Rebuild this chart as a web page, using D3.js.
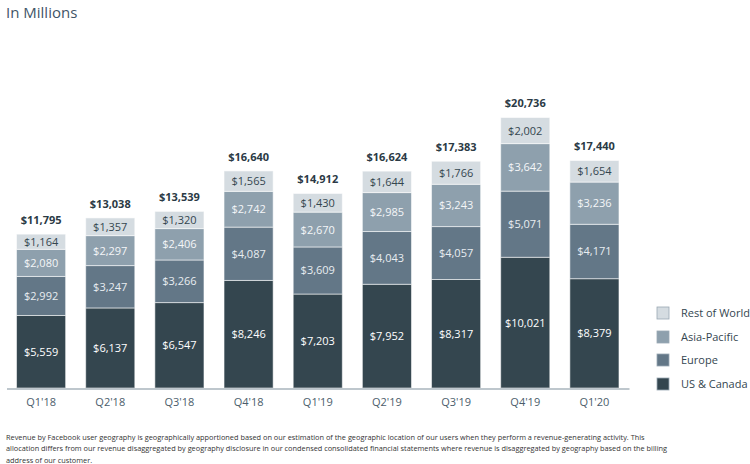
<!DOCTYPE html>
<html><head><meta charset="utf-8">
<script src="https://cdn.jsdelivr.net/npm/d3@7"></script>
<style>
body{margin:0;background:#fff;}
svg{display:block;font-family:"Open Sans","Noto Sans",sans-serif;}
</style></head>
<body><svg id="c" width="750" height="464"></svg>
<script>
const quarters = ["Q1'18","Q2'18","Q3'18","Q4'18","Q1'19","Q2'19","Q3'19","Q4'19","Q1'20"];
const usCanada = [5559,6137,6547,8246,7203,7952,8317,10021,8379];
const europe = [2992,3247,3266,4087,3609,4043,4057,5071,4171];
const asiaPacific = [2080,2297,2406,2742,2670,2985,3243,3642,3236];
const restOfWorld = [1164,1357,1320,1565,1430,1644,1766,2002,1654];
const totals = [11795,13038,13539,16640,14912,16624,17383,20736,17440];
const seriesNames = ["US & Canada","Europe","Asia-Pacific","Rest of World"];
const colors = ["#34464f","#637787","#8ea0ad","#d5dce1"];
const labelColors = ["#ffffff","#e8edf1","#f4f6f8","#34464f"];

const svg = d3.select("#c");
const rows = quarters.map((q,i)=>({q, "US & Canada":usCanada[i], "Europe":europe[i], "Asia-Pacific":asiaPacific[i], "Rest of World":restOfWorld[i], total:totals[i]}));
const stack = d3.stack().keys(seriesNames)(rows);

const x = d3.scaleBand().domain(quarters).range([6.5,629]).paddingInner(0.29).paddingOuter(0.145);
const y = d3.scaleLinear().domain([0,20736]).range([388,117.5]);
const fmt = d => "$" + d3.format(",")(d);

svg.append("text").attr("x",6).attr("y",18).attr("fill","#3f5567")
  .style("font-size","15px").text("In Millions");

const g = svg.append("g");
stack.forEach((s,si)=>{
  const layer = g.append("g");
  layer.selectAll("rect").data(s).join("rect")
    .attr("x",d=>x(d.data.q)).attr("width",x.bandwidth())
    .attr("y",d=>y(d[1])).attr("height",d=>y(d[0])-y(d[1]))
    .attr("fill",colors[si]).attr("stroke","rgba(255,255,255,0.55)").attr("stroke-width",1);
  layer.selectAll("text").data(s).join("text")
    .attr("x",d=>x(d.data.q)+x.bandwidth()/2)
    .attr("y",d=>(y(d[0])+y(d[1]))/2)
    .attr("dy","0.36em").attr("text-anchor","middle")
    .attr("fill",labelColors[si]).style("font-size","11px")
    .text(d=>fmt(d.data[seriesNames[si]]));
});

g.selectAll(".tot").data(rows).join("text").attr("class","tot")
  .attr("x",d=>x(d.q)+x.bandwidth()/2).attr("y",d=>y(d.total)-14)
  .attr("dy","0.36em").attr("text-anchor","middle")
  .attr("fill","#2b3a45").style("font-size","11px").style("font-weight","bold")
  .text(d=>fmt(d.total));

const xAxis = svg.append("g").attr("transform","translate(0,388.5)")
  .call(d3.axisBottom(x).tickSize(0).tickPadding(10));
xAxis.select(".domain").attr("stroke","#7f8f9b").attr("stroke-width",1.2);
xAxis.selectAll("text").attr("fill","#4b5d6b").style("font-size","11px").style("font-family","'Open Sans','Noto Sans',sans-serif");

const legend = svg.append("g").attr("transform","translate(657,0)");
const legendItems = seriesNames.slice().reverse();
const legendY = [313,337,360,384];
legendItems.forEach((n,i)=>{
  const ci = seriesNames.indexOf(n);
  legend.append("rect").attr("x",0).attr("y",legendY[i]-6).attr("width",12).attr("height",12)
    .attr("fill",colors[ci]).attr("stroke","#9aa8b3").attr("stroke-width",0.8);
  legend.append("text").attr("x",24).attr("y",legendY[i]).attr("dy","0.36em")
    .attr("fill","#34464f").style("font-size","11px").text(n);
});

const foot = [
 "Revenue by Facebook user geography is geographically apportioned based on our estimation of the geographic location of our users when they perform a revenue-generating activity. This",
 "allocation differs from our revenue disaggregated by geography disclosure in our condensed consolidated financial statements where revenue is disaggregated by geography based on the billing",
 "address of our customer."
];
svg.append("g").selectAll("text").data(foot).join("text")
  .attr("x",6).attr("y",(d,i)=>440+i*11.3)
  .attr("fill","#333").style("font-size","7.35px").text(d=>d);
</script></body></html>
